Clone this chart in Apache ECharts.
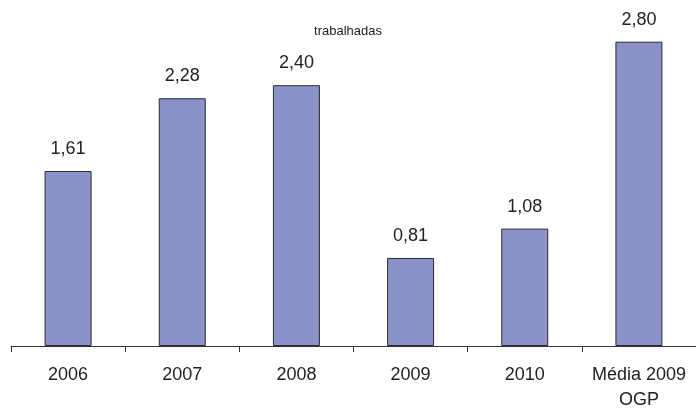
<!DOCTYPE html>
<html><head><meta charset="utf-8">
<script src="https://cdn.jsdelivr.net/npm/echarts@6/dist/echarts.min.js"></script>
<style>html,body{margin:0;padding:0;background:#fff}#c{width:696px;height:410px}</style>
</head><body><div id="c"></div>
<script>
const categories = ['2006','2007','2008','2009','2010','Média 2009\nOGP'];
const values = [1.61, 2.28, 2.40, 0.81, 1.08, 2.80];
const titleText = 'trabalhadas';
const chart = echarts.init(document.getElementById('c'));
chart.setOption({
  animation:false,
  title:{text:titleText,left:'center',top:20,textStyle:{fontFamily:'Arial, Liberation Sans',fontSize:13,fontWeight:'normal',color:'#222'}},
  grid:{left:11,top:20,width:685,height:326,containLabel:false,outerBoundsMode:'none'},
  xAxis:{type:'category',data:categories,
    axisLine:{lineStyle:{color:'#333',width:1}},
    axisTick:{show:true,length:6,lineStyle:{color:'#333'}},
    axisLabel:{fontFamily:'Arial, Liberation Sans',fontSize:18,color:'#222',margin:17,lineHeight:25,interval:0}},
  yAxis:{type:'value',min:0,max:3,show:false,splitLine:{show:false}},
  series:[{type:'bar',data:values,barWidth:47,
    itemStyle:{color:'#8a92c9',borderColor:'#2b2b2b',borderWidth:1},
    label:{show:true,position:'top',distance:13,fontFamily:'Arial, Liberation Sans',fontSize:18,color:'#222',
      formatter:p=>p.value.toFixed(2).replace('.',',')}}]
});
</script></body></html>
